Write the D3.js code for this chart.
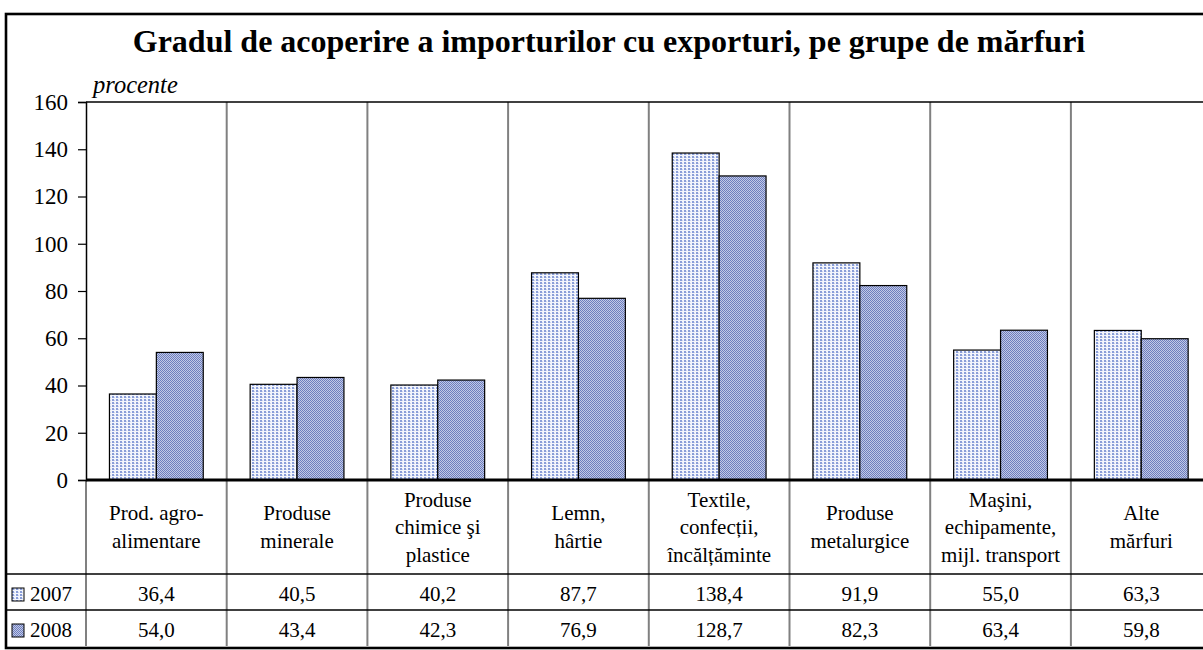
<!DOCTYPE html>
<html><head>
<script src="https://cdn.jsdelivr.net/npm/d3@7"></script>
</head><body style="margin:0">
<svg id="c" width="1203" height="650" style="display:block"></svg>
<script>
const title = "Gradul de acoperire a importurilor cu exporturi, pe grupe de mărfuri";
const unitLabel = "procente";
const categories = [
  ["Prod. agro-", "alimentare"],
  ["Produse", "minerale"],
  ["Produse", "chimice şi", "plastice"],
  ["Lemn,", "hârtie"],
  ["Textile,", "confecții,", "încălțăminte"],
  ["Produse", "metalurgice"],
  ["Maşini,", "echipamente,", "mijl. transport"],
  ["Alte", "mărfuri"]
];
const seriesNames = ["2007", "2008"];
const values2007 = [36.4, 40.5, 40.2, 87.7, 138.4, 91.9, 55.0, 63.3];
const values2008 = [54.0, 43.4, 42.3, 76.9, 128.7, 82.3, 63.4, 59.8];
const yTicks = [0, 20, 40, 60, 80, 100, 120, 140, 160];

const FONT = "Liberation Serif, Tinos, Times New Roman, serif";
const svg = d3.select("#c").attr("font-family", FONT);
const defs = svg.append("defs");
// pattern 2007: light dotted
const p1 = defs.append("pattern").attr("id","p2007").attr("patternUnits","userSpaceOnUse").attr("width",4).attr("height",3);
p1.append("rect").attr("width",4).attr("height",3).attr("fill","#f3f5fc");
p1.append("rect").attr("x",0).attr("y",0).attr("width",2).attr("height",2).attr("fill","#8a9ed8");
p1.append("rect").attr("x",2).attr("y",1).attr("width",1).attr("height",1).attr("fill","#cbd4ef");
// pattern 2008: checker
const p2 = defs.append("pattern").attr("id","p2008").attr("patternUnits","userSpaceOnUse").attr("width",2).attr("height",2);
p2.append("rect").attr("width",2).attr("height",2).attr("fill","#c2c9e6");
p2.append("rect").attr("x",0).attr("y",0).attr("width",1).attr("height",1).attr("fill","#6d7ebe");
p2.append("rect").attr("x",1).attr("y",1).attr("width",1).attr("height",1).attr("fill","#6d7ebe");
const fills = ["url(#p2007)", "url(#p2008)"];

const left = 86, catW = 140.7;
const x = d3.scaleBand().domain(d3.range(categories.length)).range([left, left + catW*categories.length]);
const y = d3.scaleLinear().domain([0,160]).range([480, 102]);
const rowLabelTop = 480, rowLabelBot = 574, row1Bot = 610, row2Bot = 646;
const rightEdge = 1230;

function txt(sel, size) {
  return sel.attr("font-family", FONT).attr("font-size", size).attr("fill", "#000");
}

// frame
svg.append("rect").attr("x",6).attr("y",14).attr("width",rightEdge).attr("height",634)
  .attr("fill","none").attr("stroke","#000").attr("stroke-width",2.6);

// title
txt(svg.append("text"), 32).attr("x",609).attr("y",52).attr("text-anchor","middle")
  .attr("font-weight","bold").text(title);
txt(svg.append("text"), 24.5).attr("x",93).attr("y",93).attr("font-style","italic").text(unitLabel);

// category dividers (gray)
svg.selectAll("line.div").data(d3.range(1, categories.length+1)).join("line")
  .attr("x1", i => x.range()[0] + x.step()*i).attr("x2", i => x.range()[0] + x.step()*i)
  .attr("y1", y(160)).attr("y2", row2Bot)
  .attr("stroke","#808080").attr("stroke-width",2);
svg.append("line").attr("x1",left).attr("x2",left).attr("y1",rowLabelTop).attr("y2",row2Bot)
  .attr("stroke","#808080").attr("stroke-width",2);

// bars
const bw = x.bandwidth()/3;
[values2007, values2008].forEach((vals, s) => {
  svg.append("g").selectAll("rect").data(vals).join("rect")
    .attr("x", (d,i) => x(i) + x.bandwidth()/6 + s*bw)
    .attr("y", d => y(d)).attr("width", bw).attr("height", d => y(0) - y(d))
    .attr("fill", fills[s]).attr("stroke","#000").attr("stroke-width",1.2);
});

svg.append("line").attr("x1",left).attr("x2",rightEdge).attr("y1",y(160)).attr("y2",y(160))
  .attr("stroke","#000").attr("stroke-width",1.5);

// y axis
const yAxis = d3.axisLeft(y).tickValues(yTicks).tickSize(8).tickPadding(10).tickFormat(d3.format("d"));
const gy = svg.append("g").attr("transform",`translate(${left},0)`).call(yAxis)
  .attr("font-family", FONT).attr("font-size", 23);
gy.select(".domain").attr("stroke","#000").attr("stroke-width",1.5);
gy.selectAll(".tick line").attr("stroke","#000").attr("stroke-width",1.2);
gy.selectAll(".tick text").attr("font-family",FONT).attr("font-size",23).attr("fill","#000");

svg.append("line").attr("x1",left).attr("x2",rightEdge).attr("y1",y(0)).attr("y2",y(0))
  .attr("stroke","#000").attr("stroke-width",3);

[rowLabelBot, row1Bot].forEach(yy => svg.append("line").attr("x1",6).attr("x2",rightEdge)
  .attr("y1",yy).attr("y2",yy).attr("stroke","#000").attr("stroke-width",1.5));

// category labels
const lh = 27.5, midLabel = (rowLabelTop + rowLabelBot)/2;
categories.forEach((lines, i) => {
  const t = txt(svg.append("text"), 21).attr("text-anchor","middle");
  const cx = x(i) + x.bandwidth()/2;
  const y0 = midLabel + 7 - (lines.length-1)*lh/2;
  lines.forEach((ln, k) => t.append("tspan").attr("x", cx).attr("y", y0 + k*lh).text(ln));
});

// value rows
const fmt = v => d3.format(".1f")(v).replace(".", ",");
[[values2007, rowLabelBot, row1Bot],[values2008, row1Bot, row2Bot]].forEach(([vals, t0, t1], s) => {
  const cy = (t0 + t1)/2;
  txt(svg.append("g").selectAll("text").data(vals).join("text"), 21)
    .attr("x", (d,i) => x(i) + x.bandwidth()/2).attr("y", cy + 8.5)
    .attr("text-anchor","middle").text(fmt);
  svg.append("rect").attr("x",12).attr("y",cy-4).attr("width",12).attr("height",13)
    .attr("fill", fills[s]).attr("stroke","#000").attr("stroke-width",1);
  txt(svg.append("text"), 21).attr("x",30).attr("y",cy+8.5).text(seriesNames[s]);
});
</script></body></html>
